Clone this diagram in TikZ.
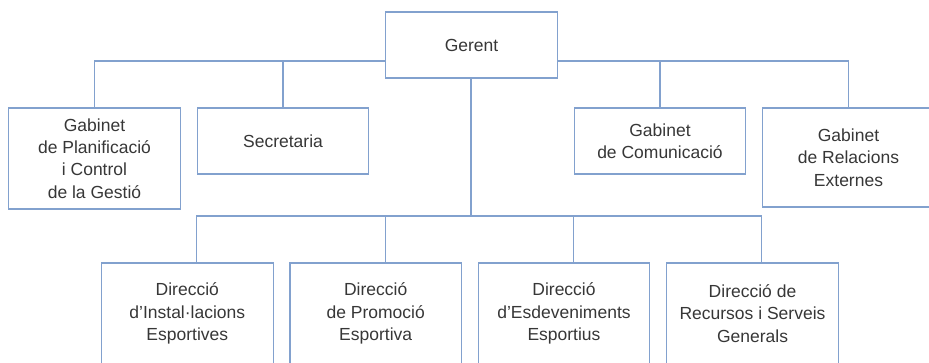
\documentclass[tikz,border=0pt]{standalone}
\usepackage{fontspec}
\setmainfont{Liberation Sans}
\usetikzlibrary{calc}
\definecolor{linec}{RGB}{130,161,206}
\definecolor{txtc}{RGB}{55,55,55}
\begin{document}
\begin{tikzpicture}[x=1pt,y=-1pt,
  box/.style={draw=linec, line width=1.1pt, rectangle, minimum width=171.5pt, align=center,
    text=txtc, font=\fontsize{17.5}{22.3}\selectfont, inner sep=0pt},
  conn/.style={draw=linec, line width=1.1pt}]
\useasboundingbox (0,0) rectangle (929,363);
\clip (0,0) rectangle (929,363);
\node[box, minimum height=66pt] (ger) at (471.5,45) {Gerent};
\node[box, minimum height=101pt] (g1) at (94.5,158.5) {Gabinet\\de Planificació\\i Control\\de la Gestió};
\node[box, minimum height=66pt] (sec) at (283,141) {Secretaria};
\node[box, minimum height=66pt] (com) at (660,141) {Gabinet\\de Comunicació};
\node[box, minimum height=99pt] (rel) at (848.5,157.5) {Gabinet\\de Relacions\\Externes};
\node[box, minimum height=101pt] (da) at (187.3,313.5) {Direcció\\d’Instal·lacions\\Esportives};
\node[box, minimum height=101pt] (db) at (375.7,313.5) {Direcció\\de Promoció\\Esportiva};
\node[box, minimum height=101pt] (dc) at (564,313.5) {Direcció\\d’Esdeveniments\\Esportius};
\node[box, minimum height=101pt] (dd) at (752.5,313.5) {Direcció de\\Recursos i Serveis\\Generals};
\coordinate (hub) at (471,216);
\coordinate (lw) at ($(ger.west)+(0,16)$);
\coordinate (le) at ($(ger.east)+(0,16)$);
\draw[conn] (lw) -| (g1.north);
\draw[conn] (lw) -| (sec.north);
\draw[conn] (le) -| (com.north);
\draw[conn] (le) -| (rel.north);
\draw[conn] (ger.south -| hub) -- (hub);
\draw[conn] (hub) -| ($(da.north)+(9.4,0)$);
\draw[conn] (hub) -| ($(db.north)+(9.4,0)$);
\draw[conn] (hub) -| ($(dc.north)+(9.4,0)$);
\draw[conn] (hub) -| ($(dd.north)+(9.4,0)$);
\end{tikzpicture}
\end{document}
